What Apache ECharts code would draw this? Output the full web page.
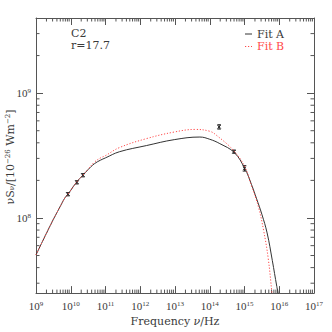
<!DOCTYPE html>
<html><head><meta charset="utf-8">
<script src="https://cdn.jsdelivr.net/npm/echarts@6/dist/echarts.min.js"></script>
<style>html,body{margin:0;padding:0;background:#fff}#c{width:332px;height:332px}</style>
</head><body><div id="c"></div>
<script>
// ---- data ----
const fitAFreq = [1e9, 2.8e9, 4.7e9, 6.8e9, 8.3e9, 1.5e10, 2.2e10, 3.2e10, 4.8e10, 7.1e10, 1e11, 2.5e11, 1.5e12, 9.5e12, 5.2e13, 1.0e14, 1.95e14, 5.1e14, 1.02e15, 1.58e15, 2.2e15, 3.16e15, 4.47e15, 6.31e15, 8.51e15, 9.44e15];
const fitAVal  = [5.06e7, 9.12e7, 1.20e8, 1.45e8, 1.55e8, 1.95e8, 2.19e8, 2.45e8, 2.72e8, 2.90e8, 3.03e8, 3.39e8, 3.80e8, 4.24e8, 4.45e8, 4.27e8, 3.94e8, 3.34e8, 2.49e8, 1.86e8, 1.44e8, 1.07e8, 7.59e7, 4.57e7, 2.82e7, 2.45e7];
const fitBFreq = [1e9, 2.8e9, 4.7e9, 6.8e9, 8.3e9, 1.5e10, 2.2e10, 3.2e10, 4.8e10, 7.1e10, 1e11, 2.5e11, 1.5e12, 9.5e12, 3.8e13, 1.0e14, 1.6e14, 4.8e14, 1.02e15, 1.58e15, 2.51e15, 3.55e15, 4.79e15, 6.17e15, 6.31e15];
const fitBVal  = [5.06e7, 9.12e7, 1.20e8, 1.45e8, 1.55e8, 1.95e8, 2.19e8, 2.47e8, 2.80e8, 3.02e8, 3.16e8, 3.66e8, 4.32e8, 4.88e8, 5.12e8, 4.95e8, 4.57e8, 3.48e8, 2.57e8, 1.82e8, 1.23e8, 7.94e7, 4.79e7, 2.51e7, 2.40e7];
const obsFreq = [8.3e9, 1.5e10, 2.24e10, 1.86e14, 5.0e14, 1.0e15];
const obsVal  = [1.55e8, 1.93e8, 2.2e8, 5.37e8, 3.4e8, 2.5e8];
const obsErr  = [0.03, 0.03, 0.03, 0.04, 0.03, 0.05];
const seriesNames = ['Fit A', 'Fit B'];
const xMajorTicks = [1e9, 1e10, 1e11, 1e12, 1e13, 1e14, 1e15, 1e16, 1e17];
const yMajorTicks = [1e8, 1e9];
const xMin = 1e9, xMax = 1e17, yMin = 2.5e7, yMax = 4e9;
const xMinorTicks = [], yMinorTicks = [];
for (let k = 9; k < 17; k++) for (let m = 2; m <= 9; m++) xMinorTicks.push(m * Math.pow(10, k));
for (let k = 7; k < 10; k++) for (let m = 2; m <= 9; m++) { const v = m * Math.pow(10, k); if (v > yMin && v < yMax) yMinorTicks.push(v); }

// ---- styling ----
const tickFont = '"Liberation Serif","DejaVu Serif",serif';
const textFont = '"DejaVu Serif","Liberation Serif",serif';
const txt = '#3a3a3a';
const axisCol = '#555';
const redCol = '#ff4a4a';
const supLabel = v => { const lg = Math.log10(v); const e = Math.round(lg); if (Math.abs(lg - e) > 1e-6) return ''; return '{b|10}{s|' + e + '}'; };
const labelRich = {
  b: {fontSize: 11, fontFamily: tickFont, color: txt},
  s: {fontSize: 7, fontFamily: tickFont, color: txt, verticalAlign: 'top'}
};
function mkAxis(isX, pos, showLabel) {
  const ticks = isX ? xMajorTicks : yMajorTicks;
  return {
    type: 'log', logBase: 10, min: isX ? xMin : yMin, max: isX ? xMax : yMax, position: pos,
    axisLine: {show: true, onZero: false, lineStyle: {color: axisCol, width: 1}},
    axisTick: {show: true, inside: true, length: 7, customValues: ticks, lineStyle: {color: axisCol, width: 1}},
    axisLabel: {show: showLabel, margin: isX ? 7 : 5, customValues: ticks, formatter: supLabel, rich: labelRich},
    splitLine: {show: false}
  };
}
const xA = mkAxis(true, 'bottom', true);
xA.name = 'Frequency {i|ν}/Hz'; xA.nameLocation = 'middle'; xA.nameGap = 19;
xA.nameTextStyle = {fontSize: 11, fontFamily: textFont, color: txt, rich: {i: {fontSize: 11, fontFamily: textFont, color: txt, fontStyle: 'italic'}}};
const yA = mkAxis(false, 'left', true);
const xB = mkAxis(true, 'top', false);
const yB = mkAxis(false, 'right', false);

const chart = echarts.init(document.getElementById('c'), null, {renderer: 'svg', width: 332, height: 332});
chart.setOption({
  animation: false,
  backgroundColor: '#fff',
  grid: {left: 36, top: 18, right: 18, bottom: 36, containLabel: false},
  xAxis: [xA, xB],
  yAxis: [yA, yB],
  graphic: [
    {type: 'text', left: 71, top: 28, style: {text: 'C2', font: '11px ' + textFont, fill: txt}},
    {type: 'text', left: 71, top: 40, style: {text: 'r=17.7', font: '11px ' + textFont, fill: txt}},
    // legend
    {type: 'line', shape: {x1: 245, y1: 34, x2: 252, y2: 34}, style: {stroke: '#333', lineWidth: 1}},
    {type: 'text', x: 257, y: 34, style: {text: seriesNames[0], font: '11px ' + textFont, fill: txt, verticalAlign: 'middle'}},
    {type: 'line', shape: {x1: 245, y1: 46.5, x2: 252, y2: 46.5}, style: {stroke: redCol, lineWidth: 1, lineDash: [1.2, 1.8]}},
    {type: 'text', x: 257, y: 46.5, style: {text: seriesNames[1], font: '11px ' + textFont, fill: redCol, verticalAlign: 'middle'}},
    // y-axis title
    {type: 'text', x: 10, y: 157, rotation: Math.PI / 2,
     style: {text: '{n|νS}{sub|ν}{n|/[10}{sup|−26}{n| Wm}{sup|−2}{n|]}', align: 'center', verticalAlign: 'middle',
       rich: {
         n: {fontSize: 11, fontFamily: textFont, fill: txt, color: txt},
         sub: {fontSize: 7, fontFamily: textFont, fill: txt, color: txt, verticalAlign: 'bottom'},
         sup: {fontSize: 7, fontFamily: textFont, fill: txt, color: txt, verticalAlign: 'top'}
       }}}
  ],
  series: [
    {name: seriesNames[0], type: 'line', xAxisIndex: 0, yAxisIndex: 0, showSymbol: false, smooth: 0.4, clip: true,
     lineStyle: {color: '#333', width: 1}, itemStyle: {color: '#333'},
     data: fitAFreq.map((f, i) => [f, fitAVal[i]])},
    {name: seriesNames[1], type: 'line', xAxisIndex: 0, yAxisIndex: 0, showSymbol: false, smooth: 0.4, clip: true,
     lineStyle: {color: redCol, width: 1, type: [1.2, 1.8]}, itemStyle: {color: redCol},
     data: fitBFreq.map((f, i) => [f, fitBVal[i]])},
    {type: 'custom', xAxisIndex: 0, yAxisIndex: 0, silent: true, clip: false,
     data: xMinorTicks.map(v => [v, yMin]),
     renderItem: (p, api) => {
       const v = api.value(0); const b = api.coord([v, yMin]); const t = api.coord([v, yMax]);
       return {type: 'group', children: [
         {type: 'line', shape: {x1: b[0], y1: b[1], x2: b[0], y2: b[1] - 3.5}, style: {stroke: axisCol, lineWidth: 1}},
         {type: 'line', shape: {x1: t[0], y1: t[1], x2: t[0], y2: t[1] + 3.5}, style: {stroke: axisCol, lineWidth: 1}}
       ]};
     }},
    {type: 'custom', xAxisIndex: 0, yAxisIndex: 0, silent: true, clip: false,
     data: yMinorTicks.map(v => [xMin, v]),
     renderItem: (p, api) => {
       const v = api.value(1); const l = api.coord([xMin, v]); const r = api.coord([xMax, v]);
       return {type: 'group', children: [
         {type: 'line', shape: {x1: l[0], y1: l[1], x2: l[0] + 3.5, y2: l[1]}, style: {stroke: axisCol, lineWidth: 1}},
         {type: 'line', shape: {x1: r[0], y1: r[1], x2: r[0] - 3.5, y2: r[1]}, style: {stroke: axisCol, lineWidth: 1}}
       ]};
     }},
    {type: 'custom', xAxisIndex: 0, yAxisIndex: 0, silent: true,
     data: obsFreq.map((f, i) => [f, obsVal[i]]),
     renderItem: (p, api) => {
       const x = api.value(0), y = api.value(1), e = obsErr[p.dataIndex];
       const c = api.coord([x, y]), lo = api.coord([x, y * (1 - e)]), hi = api.coord([x, y * (1 + e)]);
       const s = 1.6, cw = 1.8;
       const st = {stroke: '#222', lineWidth: 1};
       return {type: 'group', children: [
         {type: 'line', shape: {x1: c[0], y1: lo[1], x2: c[0], y2: hi[1]}, style: st},
         {type: 'line', shape: {x1: c[0] - cw, y1: lo[1], x2: c[0] + cw, y2: lo[1]}, style: st},
         {type: 'line', shape: {x1: c[0] - cw, y1: hi[1], x2: c[0] + cw, y2: hi[1]}, style: st},
         {type: 'line', shape: {x1: c[0] - s, y1: c[1] - s, x2: c[0] + s, y2: c[1] + s}, style: st},
         {type: 'line', shape: {x1: c[0] - s, y1: c[1] + s, x2: c[0] + s, y2: c[1] - s}, style: st}
       ]};
     }}
  ]
});
</script>
</body></html>
